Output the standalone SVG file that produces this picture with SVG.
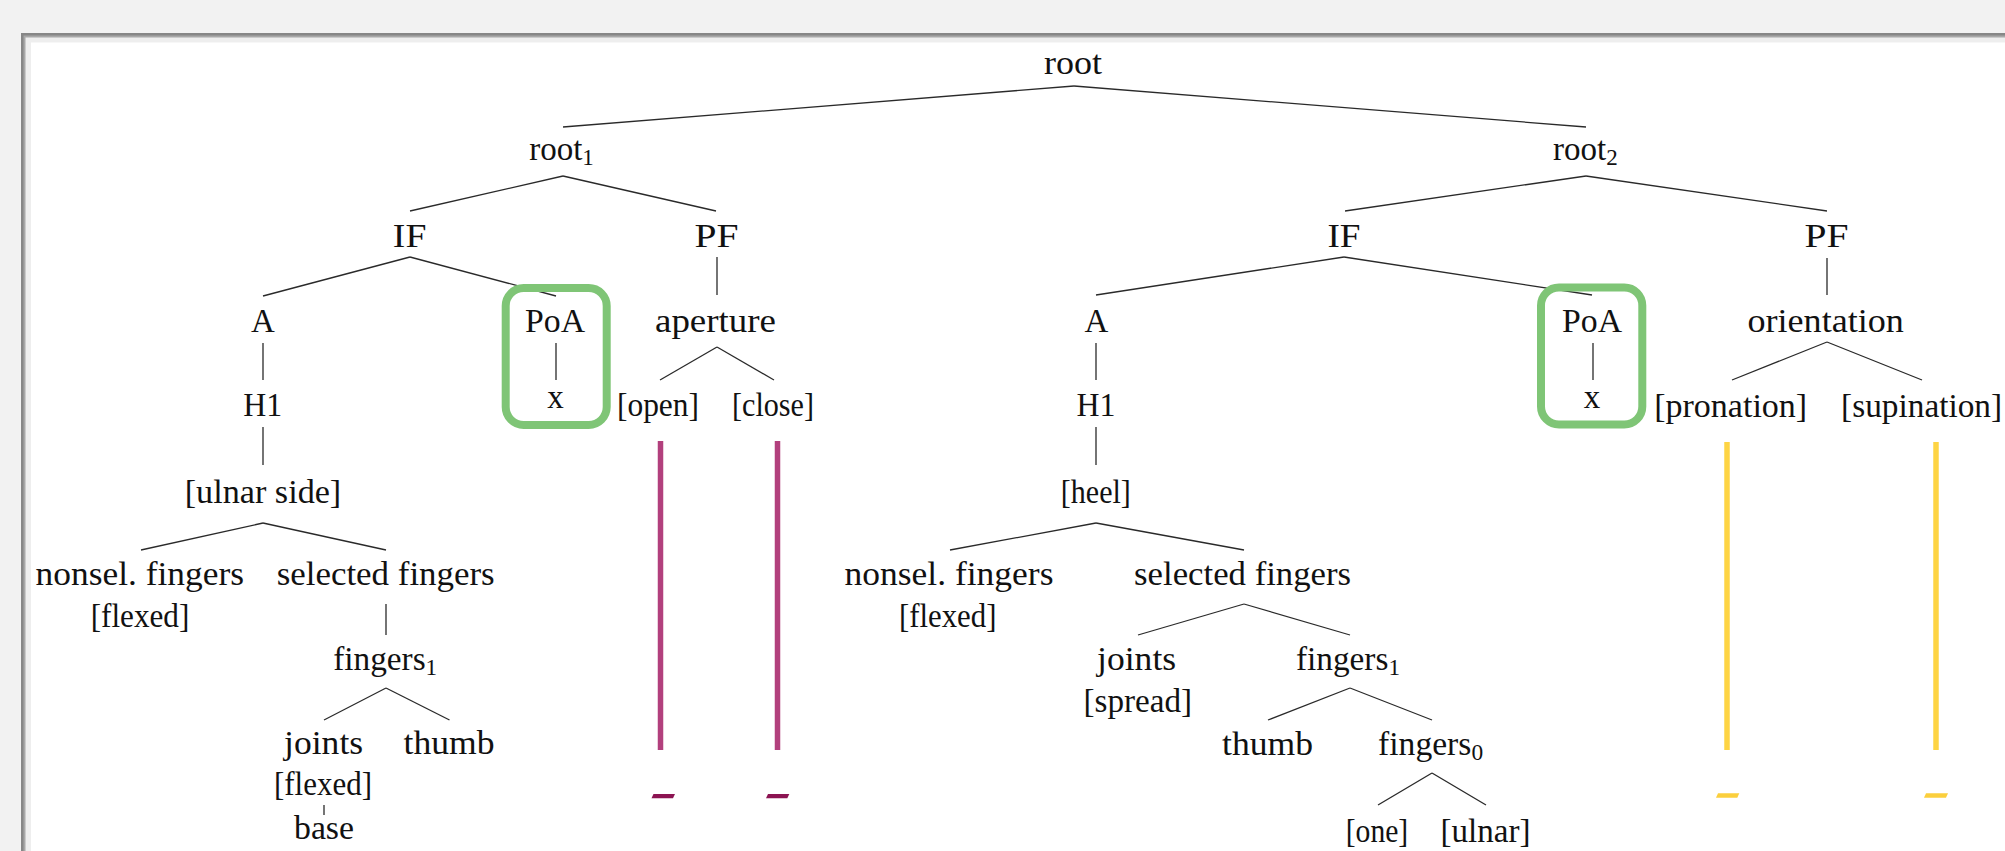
<svg xmlns="http://www.w3.org/2000/svg" width="2005" height="851" viewBox="0 0 2005 851">
<style>
text{font-family:"Liberation Serif","Times New Roman",serif;font-size:33px;fill:#111;text-anchor:middle}
.sub{font-size:23px}
.c line{stroke:#2a2a2a;stroke-width:1.3;fill:none}
.poa{fill:none;stroke:#7fc576;stroke-width:8}
.mag{stroke:#b2407d;stroke-width:5.5}
.yel{stroke:#fed444;stroke-width:5.5}
.magd{fill:#8c1452}
.yeld{fill:#fbcf3d}
</style>
<rect x="0" y="0" width="2005" height="851" fill="#f2f2f2"/>
<rect x="21" y="33" width="1990" height="830" fill="#878787"/>
<rect x="23.5" y="35.5" width="1990" height="830" fill="#a8a8a8"/>
<rect x="25.5" y="37.5" width="1990" height="830" fill="#eeeeee"/>
<rect x="31" y="42.5" width="1990" height="830" fill="#ffffff"/>

<g id="connectors" class="c">
<line x1="1074" y1="86" x2="563" y2="127"/>
<line x1="1074" y1="86" x2="1586" y2="127"/>
<line x1="563" y1="176" x2="410" y2="211"/>
<line x1="563" y1="176" x2="716" y2="211"/>
<line x1="410" y1="257" x2="263" y2="296"/>
<line x1="410" y1="257" x2="556" y2="296"/>
<line x1="263" y1="343" x2="263" y2="380"/>
<line x1="263" y1="427" x2="263" y2="465"/>
<line x1="263" y1="523" x2="141" y2="550"/>
<line x1="263" y1="523" x2="386" y2="550"/>
<line x1="386" y1="604" x2="386" y2="635"/>
<line x1="386" y1="688" x2="324" y2="720"/>
<line x1="386" y1="688" x2="449.5" y2="720"/>
<line x1="324" y1="805" x2="324" y2="815"/>
<line x1="717" y1="257" x2="717" y2="295"/>
<line x1="717" y1="347" x2="660" y2="380"/>
<line x1="717" y1="347" x2="774" y2="380"/>
<line x1="556" y1="343" x2="556" y2="380"/>
<line x1="1586" y1="176" x2="1345" y2="211"/>
<line x1="1586" y1="176" x2="1827" y2="211"/>
<line x1="1344" y1="257" x2="1096" y2="295"/>
<line x1="1344" y1="257" x2="1592" y2="295"/>
<line x1="1096" y1="343" x2="1096" y2="380"/>
<line x1="1096" y1="427" x2="1096" y2="465"/>
<line x1="1096" y1="523" x2="950" y2="550"/>
<line x1="1096" y1="523" x2="1244" y2="550"/>
<line x1="1244" y1="604" x2="1138" y2="635"/>
<line x1="1244" y1="604" x2="1350" y2="635"/>
<line x1="1350" y1="688" x2="1268" y2="720"/>
<line x1="1350" y1="688" x2="1432" y2="720"/>
<line x1="1432" y1="773" x2="1378" y2="805"/>
<line x1="1432" y1="773" x2="1486" y2="805"/>
<line x1="1593" y1="343" x2="1593" y2="380"/>
<line x1="1827" y1="258" x2="1827" y2="295"/>
<line x1="1827" y1="342" x2="1732" y2="380"/>
<line x1="1827" y1="342" x2="1922" y2="380"/>
</g>

<g id="highlights">
<rect class="poa" x="505.7" y="288" width="101" height="137" rx="18"/>
<rect class="poa" x="1541" y="287.5" width="101.3" height="137" rx="18"/>
<line class="mag" x1="660.5" y1="441" x2="660.5" y2="750"/>
<line class="mag" x1="777.5" y1="441" x2="777.5" y2="750"/>
<polygon class="magd" points="651.5,798.3 653.5,794 675,794 673,798.3"/>
<polygon class="magd" points="766,798.3 768,794 789.3,794 787.3,798.3"/>
<line class="yel" x1="1727" y1="442" x2="1727" y2="750"/>
<line class="yel" x1="1936" y1="442" x2="1936" y2="750"/>
<polygon class="yeld" points="1716,797.7 1718,793.3 1739.3,793.3 1737.3,797.7"/>
<polygon class="yeld" points="1924,797.7 1926,793.3 1948,793.3 1946,797.7"/>
</g>

<g id="n-root"><text x="1073" y="74" textLength="58" lengthAdjust="spacingAndGlyphs">root</text></g>
<g id="n-root1"><text x="561.5" y="160">root<tspan class="sub" dy="5">1</tspan></text></g>
<g id="n-root2"><text x="1585.3" y="160">root<tspan class="sub" dy="5">2</tspan></text></g>
<g id="n-if1"><text x="409.6" y="247" textLength="33.5" lengthAdjust="spacingAndGlyphs">IF</text></g>
<g id="n-pf1"><text x="716.5" y="247" textLength="44" lengthAdjust="spacingAndGlyphs">PF</text></g>
<g id="n-if2"><text x="1344" y="247" textLength="33" lengthAdjust="spacingAndGlyphs">IF</text></g>
<g id="n-pf2"><text x="1826.6" y="247" textLength="44" lengthAdjust="spacingAndGlyphs">PF</text></g>
<g id="n-a1"><text x="263" y="331.7">A</text></g>
<g id="n-poa1"><text x="555" y="331.7" textLength="60" lengthAdjust="spacingAndGlyphs">PoA</text></g>
<g id="n-x1"><text x="555.5" y="408">x</text></g>
<g id="n-aperture"><text x="715.5" y="331.7" textLength="121" lengthAdjust="spacingAndGlyphs">aperture</text></g>
<g id="n-h1a"><text x="262.7" y="416" textLength="39" lengthAdjust="spacingAndGlyphs">H1</text></g>
<g id="n-open"><text x="658" y="416" textLength="82" lengthAdjust="spacingAndGlyphs">[open]</text></g>
<g id="n-close"><text x="773" y="416" textLength="82" lengthAdjust="spacingAndGlyphs">[close]</text></g>
<g id="n-ulnarside"><text x="263" y="503" textLength="156.5" lengthAdjust="spacingAndGlyphs">[ulnar side]</text></g>
<g id="n-nonsel1"><text x="139.8" y="585" textLength="208.4" lengthAdjust="spacingAndGlyphs">nonsel. fingers</text><text x="140" y="626.7" textLength="98.7" lengthAdjust="spacingAndGlyphs">[flexed]</text></g>
<g id="n-sel1"><text x="385.7" y="585" textLength="218" lengthAdjust="spacingAndGlyphs">selected fingers</text></g>
<g id="n-fingers1a"><text x="385.2" y="670" textLength="104" lengthAdjust="spacingAndGlyphs">fingers<tspan class="sub" dy="5">1</tspan></text></g>
<g id="n-joints1"><text x="323.6" y="754" textLength="79" lengthAdjust="spacingAndGlyphs">joints</text><text x="323" y="795" textLength="98" lengthAdjust="spacingAndGlyphs">[flexed]</text></g>
<g id="n-base"><text x="324" y="839" textLength="60" lengthAdjust="spacingAndGlyphs">base</text></g>
<g id="n-thumb1"><text x="449" y="754" textLength="91" lengthAdjust="spacingAndGlyphs">thumb</text></g>

<g id="n-a2"><text x="1096.4" y="331.7">A</text></g>
<g id="n-h1b"><text x="1096" y="416" textLength="39" lengthAdjust="spacingAndGlyphs">H1</text></g>
<g id="n-heel"><text x="1095.8" y="503" textLength="70" lengthAdjust="spacingAndGlyphs">[heel]</text></g>
<g id="n-nonsel2"><text x="949" y="585" textLength="209" lengthAdjust="spacingAndGlyphs">nonsel. fingers</text><text x="947.7" y="626.7" textLength="97.4" lengthAdjust="spacingAndGlyphs">[flexed]</text></g>
<g id="n-sel2"><text x="1242.6" y="585" textLength="217" lengthAdjust="spacingAndGlyphs">selected fingers</text></g>
<g id="n-joints2"><text x="1136.6" y="670" textLength="79" lengthAdjust="spacingAndGlyphs">joints</text><text x="1137.8" y="711.7" textLength="108.5" lengthAdjust="spacingAndGlyphs">[spread]</text></g>
<g id="n-fingers1b"><text x="1348" y="670" textLength="104" lengthAdjust="spacingAndGlyphs">fingers<tspan class="sub" dy="5">1</tspan></text></g>
<g id="n-thumb2"><text x="1267.6" y="755" textLength="91" lengthAdjust="spacingAndGlyphs">thumb</text></g>
<g id="n-fingers0"><text x="1430.6" y="755" textLength="105" lengthAdjust="spacingAndGlyphs">fingers<tspan class="sub" dy="5">0</tspan></text></g>
<g id="n-one"><text x="1377" y="841.7" textLength="62.5" lengthAdjust="spacingAndGlyphs">[one]</text></g>
<g id="n-ulnar"><text x="1485.5" y="841.7" textLength="90" lengthAdjust="spacingAndGlyphs">[ulnar]</text></g>
<g id="n-poa2"><text x="1592" y="331.7" textLength="60" lengthAdjust="spacingAndGlyphs">PoA</text></g>
<g id="n-x2"><text x="1592" y="408">x</text></g>
<g id="n-orientation"><text x="1825.7" y="331.7" textLength="156.4" lengthAdjust="spacingAndGlyphs">orientation</text></g>
<g id="n-pronation"><text x="1730.7" y="416.7" textLength="153" lengthAdjust="spacingAndGlyphs">[pronation]</text></g>
<g id="n-supination"><text x="1921.6" y="416.7" textLength="161" lengthAdjust="spacingAndGlyphs">[supination]</text></g>
</svg>
